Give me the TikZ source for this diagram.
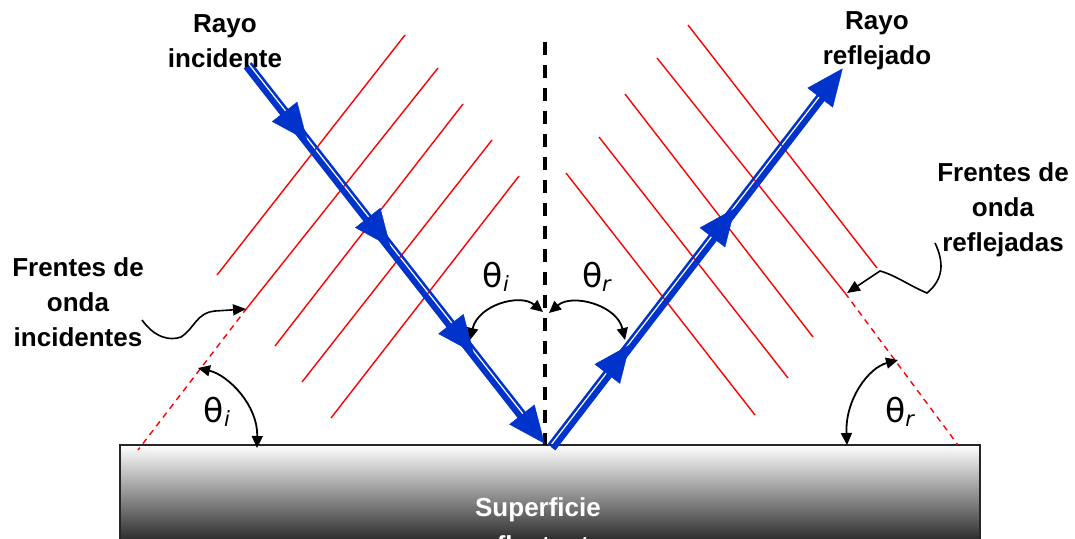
\documentclass[tikz,border=0pt]{standalone}
\usepackage{fontspec}
\setmainfont{Liberation Sans}
\newfontfamily\thetafont{DejaVu Sans}
\usetikzlibrary{arrows.meta,decorations.markings}
\definecolor{rayblue}{RGB}{0,51,204}
\begin{document}
\begin{tikzpicture}[x=1pt,y=-1pt,
  lab/.style={font=\bfseries\fontsize{26}{35}\selectfont, align=center, inner sep=0pt},
  front/.style={red, line width=1.4pt},
  frontdash/.style={red, line width=1.4pt, dash pattern=on 6pt off 5pt},
  normalline/.style={black, line width=3.5pt, dash pattern=on 13pt off 10pt},
  angarrow/.style={black, line width=1.8pt, {Triangle[length=12pt,width=11pt]}-{Triangle[length=12pt,width=11pt]}},
  pointer/.style={black, line width=1.6pt, -{Triangle[length=13pt,width=11pt]}},
  thetalab/.style={font=\thetafont\fontsize{33}{33}\selectfont, inner sep=0pt},
  raythick/.style={rayblue, line width=6pt},
  raythin/.style={rayblue, line width=2.5pt},
  bighead/.style={Triangle[length=37pt,width=32pt,color=rayblue]}
]
\useasboundingbox (0,0) rectangle (1075,538);

% reflecting surface
\shade[top color=white, bottom color=black] (120,445) rectangle (980,560);
\draw[black!85, line width=1.5pt] (120,560) -- (120,445) -- (980,445) -- (980,560);
\node[lab, text=white] (surf1) at (538,510) {Superficie};
\node[lab, text=white] (surf2) at (538,545) {reflectante};

% incident wave fronts
\draw[front] (405,35) -- (217,275);
\draw[front] (438,68) -- (247,308);
\draw[frontdash] (247,308) -- (138,450);
\draw[front] (463,104) -- (275,346);
\draw[front] (492,140) -- (302,382);
\draw[front] (519,176) -- (331,418);

% reflected wave fronts
\draw[front] (688,25) -- (877,268);
\draw[front] (657,58) -- (845,293);
\draw[frontdash] (845,293) -- (958,445);
\draw[front] (625,94) -- (813,337);
\draw[front] (599,137) -- (788,378);
\draw[front] (566,173) -- (755,415);

% normal
\coordinate (ntop) at (545,42);
\coordinate (nbot) at (545,445);
\draw[normalline] (ntop) -- (nbot);

% incident ray
\coordinate (iA) at (248,65);
\coordinate (iB) at (545,444);
\draw[raythick, transform canvas={shift={(-1.97,1.54)}}, shorten >=20pt] (iA) -- (iB);
\draw[raythin, transform canvas={shift={(2.6,-2.0)}}, shorten >=20pt] (iA) -- (iB);
\path[decoration={markings,
   mark=at position 0.20 with {\arrow{Triangle[length=37pt,width=32pt,color=rayblue]}},
   mark=at position 0.48 with {\arrow{Triangle[length=37pt,width=32pt,color=rayblue]}},
   mark=at position 0.76 with {\arrow{Triangle[length=37pt,width=32pt,color=rayblue]}},
   mark=at position 0.999 with {\arrow{Triangle[length=37pt,width=32pt,color=rayblue]}}}, decorate] (iA) -- (iB);

% reflected ray
\coordinate (rA) at (551,447);
\coordinate (rB) at (843,68);
\draw[raythick, transform canvas={shift={(1.97,1.54)}}, shorten >=20pt] (rA) -- (rB);
\draw[raythin, transform canvas={shift={(-2.6,-2.0)}}, shorten >=20pt] (rA) -- (rB);
\path[decoration={markings,
   mark=at position 0.27 with {\arrow{Triangle[length=37pt,width=32pt,color=rayblue]}},
   mark=at position 0.63 with {\arrow{Triangle[length=37pt,width=32pt,color=rayblue]}},
   mark=at position 0.999 with {\arrow{Triangle[length=37pt,width=32pt,color=rayblue]}}}, decorate] (rA) -- (rB);

% labels
\node[lab] (rinc) at (225,41) {Rayo\\incidente};
\node[lab] (rref) at (877,41) {Rayo\\reflejado};
\node[lab] (finc) at (78,302) {Frentes de\\onda\\incidentes};
\node[lab] (fref) at (1003,210) {Frentes de\\onda\\reflejadas};

% angle labels
\node[thetalab] (ti1) at (496,277) {θ\raisebox{-4pt}{\fontsize{21}{21}\selectfont\textit{i}}};
\node[thetalab] (tr1) at (597,277) {θ\raisebox{-4pt}{\fontsize{21}{21}\selectfont\textit{r}}};
\node[thetalab] (ti2) at (217,412) {θ\raisebox{-4pt}{\fontsize{21}{21}\selectfont\textit{i}}};
\node[thetalab] (tr2) at (900,412) {θ\raisebox{-4pt}{\fontsize{21}{21}\selectfont\textit{r}}};

% angle arcs
\coordinate (a1s) at (470,340);
\coordinate (a1e) at (543,312);
\draw[angarrow] (a1s) .. controls (478,305) and (520,293) .. (a1e);
\coordinate (a2s) at (549,313);
\coordinate (a2e) at (625,340);
\draw[angarrow] (a2s) .. controls (572,293) and (617,305) .. (a2e);
\coordinate (a3s) at (198,368);
\coordinate (a3e) at (257,448);
\draw[angarrow] (a3s) .. controls (228,375) and (258,405) .. (a3e);
\coordinate (a4s) at (898,360);
\coordinate (a4e) at (847,445);
\draw[angarrow] (a4s) .. controls (868,368) and (845,400) .. (a4e);

% pointers
\coordinate (p1s) at (142,320);
\coordinate (p1e) at (246,309);
\draw[pointer] (p1s) .. controls (155,338) and (170,341) .. (181,337)
   .. controls (195,328) and (196,313) .. (215,311) -- (p1e);
\coordinate (p2s) at (935,243);
\coordinate (p2e) at (847,293);
\draw[pointer] (p2s) .. controls (944,262) and (944,279) .. (927,293)
   .. controls (910,286) and (895,275) .. (880,271) -- (p2e);
\end{tikzpicture}
\end{document}
